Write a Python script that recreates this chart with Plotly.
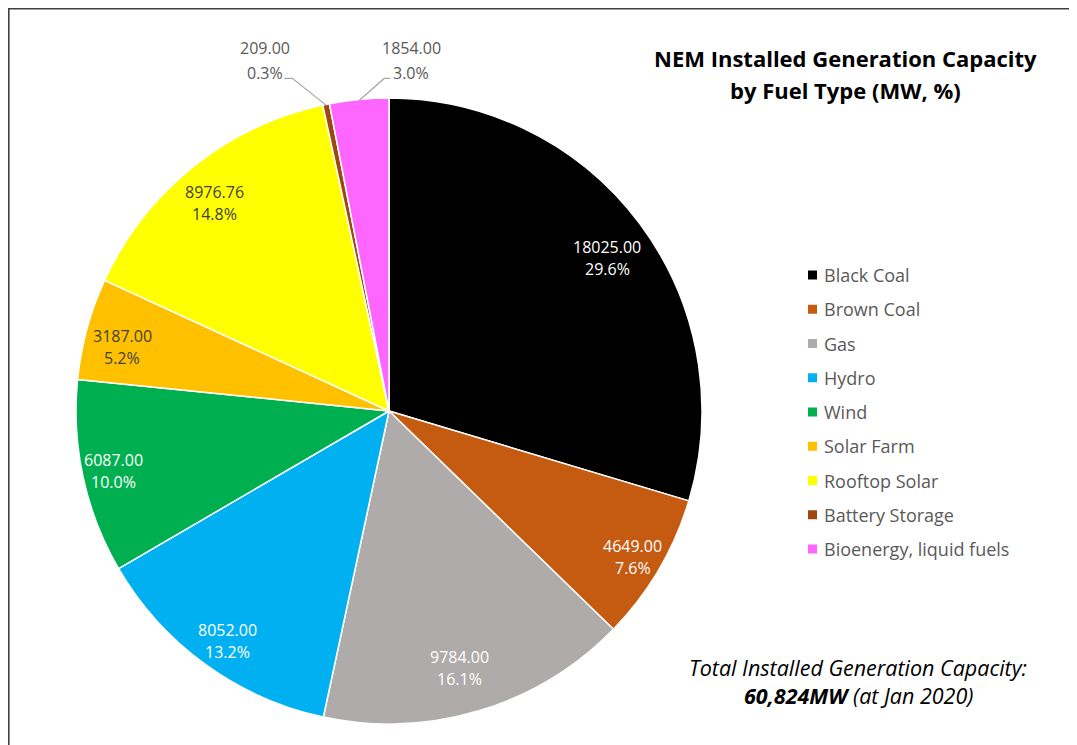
import math
import plotly.graph_objects as go

# ---------------- data ----------------
categories = ["Black Coal", "Brown Coal", "Gas", "Hydro", "Wind", "Solar Farm",
              "Rooftop Solar", "Battery Storage", "Bioenergy, liquid fuels"]
capacity_mw = [18025.00, 4649.00, 9784.00, 8052.00, 6087.00, 3187.00,
               8976.76, 209.00, 1854.00]
colors = ["#000000", "#C55A11", "#AFABAB", "#00B0F0", "#00B050", "#FFC000",
          "#FFFF00", "#9E480E", "#FF66FF"]
label_colors = ["#FFFFFF", "#FFFFFF", "#FFFFFF", "#FFFFFF", "#FFFFFF", "#404040",
                "#404040", "#595959", "#595959"]
outside = [False, False, False, False, False, False, False, True, True]

title_lines = ["NEM Installed Generation Capacity", "by Fuel Type (MW, %)"]
note_line1 = "<i>Total Installed Generation Capacity:</i>"
note_line2 = "<b><i>60,824MW</i></b><i> (at Jan 2020)</i>"

# ---------------- layout / style constants (pixels, screen coords) ----------------
W, H = 1077, 745
OFF = 8          # page body margin offset
FW, FH = W - OFF, H - OFF
CX, CY, R = 389, 411, 313
FONT = "Open Sans"
# per-slice label nudges (px) relative to 0.87*R placement (style only)
label_nudge = [(0, 10), (9, 8), (-8, -4), (-2, 10), (-9, 2), (-4, 8), (-4, 4), (0, 0), (0, 0)]


def px(x):
    return (x - OFF) / FW


def py(y):
    return 1 - (y - OFF) / FH


fig = go.Figure()
fig.add_trace(go.Pie(
    labels=categories,
    values=capacity_mw,
    sort=False,
    direction="clockwise",
    rotation=0,
    marker=dict(colors=colors, line=dict(color="#FFFFFF", width=1.5)),
    textinfo="none",
    hoverinfo="label+value+percent",
    showlegend=False,
    domain=dict(x=[px(CX - R), px(CX + R)], y=[py(CY + R), py(CY - R)]),
))

annotations = []
shapes = []

total = sum(capacity_mw)
cum = 0.0
# offsets for outside labels: (label centre dx, dy, elbow dx, dy, end dx, dy)
outside_geom = {
    7: (-61, -45, -34, -27, -42, -27),
    8: (52, -40, 25, -22, 31, -22),
}
for i, v in enumerate(capacity_mw):
    frac = v / total
    mid = cum + frac / 2
    cum += frac
    th = 2 * math.pi * mid
    val_txt = f"{v:.2f}"
    pct_txt = f"{frac * 100:.1f}%"
    if not outside[i]:
        rl = 0.87 * R
        lx = CX + rl * math.sin(th) + label_nudge[i][0]
        ly = CY - rl * math.cos(th) + label_nudge[i][1]
        gap = 11
    else:
        ex = CX + (R - 1) * math.sin(th)
        ey = CY - (R - 1) * math.cos(th)
        g = outside_geom[i]
        lx, ly = ex + g[0], ey + g[1]
        gap = 12.5
        shapes.append(dict(
            type="path", xref="paper", yref="paper",
            path=f"M {px(ex)} {py(ey)} L {px(ex + g[2])} {py(ey + g[3])} L {px(ex + g[4])} {py(ey + g[5])}",
            line=dict(color="#A6A6A6", width=1.2),
        ))
    for txt, yy in ((val_txt, ly - gap), (pct_txt, ly + gap)):
        annotations.append(dict(
            x=px(lx), y=py(yy), xref="paper", yref="paper", text=txt,
            showarrow=False, xanchor="center", yanchor="middle",
            font=dict(family=FONT, size=16, color=label_colors[i]),
        ))

# legend (manual, to match spacing)
LEG_X, LEG_Y0, LEG_DY, SQ = 808, 275, 34.25, 9
for i, name in enumerate(categories):
    yc = LEG_Y0 + i * LEG_DY
    shapes.append(dict(
        type="rect", xref="paper", yref="paper",
        x0=px(LEG_X), x1=px(LEG_X + SQ), y0=py(yc + SQ / 2), y1=py(yc - SQ / 2),
        fillcolor=colors[i], line=dict(width=0),
    ))
    annotations.append(dict(
        x=px(LEG_X + SQ + 5), y=py(yc), xref="paper", yref="paper", text=name,
        showarrow=False, xanchor="left", yanchor="middle",
        font=dict(family=FONT, size=18, color="#595959"),
    ))

# title
for t, yy in zip(title_lines, (58, 90)):
    annotations.append(dict(
        x=px(845), y=py(yy), xref="paper", yref="paper", text=f"<b>{t}</b>",
        showarrow=False, xanchor="center", yanchor="middle",
        font=dict(family=FONT, size=22, color="#000000"),
    ))

# footnote
for t, yy in zip((note_line1, note_line2), (667, 695)):
    annotations.append(dict(
        x=px(858), y=py(yy), xref="paper", yref="paper", text=t,
        showarrow=False, xanchor="center", yanchor="middle",
        font=dict(family=FONT, size=21.5, color="#000000"),
    ))

# chart frame (top and left edges visible), kept inside the paper
shapes.append(dict(
    type="path", xref="paper", yref="paper",
    path=f"M {px(8.8)} 0 L {px(8.8)} {py(8.8)} L 1 {py(8.8)}",
    line=dict(color="#404040", width=1.6),
))

fig.update_layout(
    width=FW, height=FH,
    margin=dict(l=0, r=0, t=0, b=0),
    paper_bgcolor="#FFFFFF",
    plot_bgcolor="#FFFFFF",
    annotations=annotations,
    shapes=shapes,
    showlegend=False,
    font=dict(family=FONT),
)

fig.write_html("out.html")
